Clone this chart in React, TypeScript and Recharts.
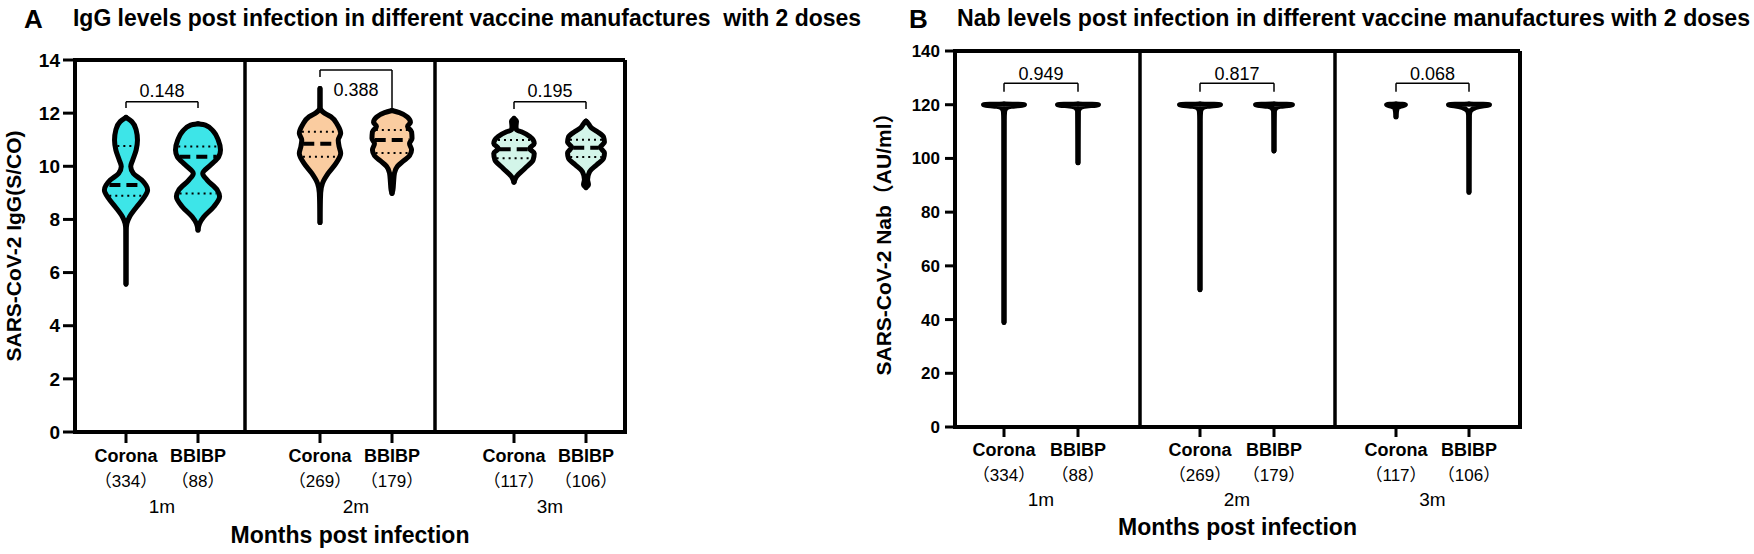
import React from 'react';
import { ComposedChart, Area, XAxis, YAxis, ReferenceLine } from 'recharts';

const FONT = "'Liberation Sans', Arial, 'Noto Sans CJK SC', sans-serif";
const BLACK = '#000';

// ---- values ----
const months = ['1m', '2m', '3m'];
const vaccines = ['Corona', 'BBIBP'];
const sampleSizes = [334, 88, 269, 179, 117, 106];

const igGTicks = [0, 2, 4, 6, 8, 10, 12, 14];
const nabTicks = [0, 20, 40, 60, 80, 100, 120, 140];

const igGPValues = ['0.148', '0.388', '0.195'];
const nabPValues = ['0.949', '0.817', '0.068'];

type Profile = [number, number][];

// violin outlines, top to bottom: [value, relative half-width]
const igGCorona1m: Profile = [
  [11.84, 0], [11.68, 0.26], [11.37, 0.45], [10.99, 0.51], [10.61, 0.45], [10.24, 0.3],
  [9.99, 0.21], [9.73, 0.33], [9.48, 0.7], [9.11, 0.96], [8.8, 0.78], [8.48, 0.48],
  [8.1, 0.16], [7.85, 0.04], [7.6, 0.01], [5.56, 0],
];
const igGBBIBP1m: Profile = [
  [11.6, 0], [11.55, 0.33], [11.3, 0.7], [10.99, 0.9], [10.61, 1.0], [10.36, 0.92],
  [10.05, 0.56], [9.73, 0.21], [9.48, 0.41], [9.11, 0.85], [8.86, 0.96], [8.48, 0.7],
  [8.1, 0.26], [7.85, 0.07], [7.6, 0],
];
const igGCorona2m: Profile = [
  [12.93, 0], [12.2, 0.01], [12.0, 0.2], [11.87, 0.48], [11.55, 0.78], [11.24, 0.92],
  [10.99, 0.81], [10.74, 0.85], [10.49, 0.92], [10.1, 0.7], [9.73, 0.36], [9.36, 0.11],
  [9.0, 0.03], [7.88, 0],
];
const igGBBIBP2m: Profile = [
  [12.1, 0], [12.02, 0.33], [11.85, 0.69], [11.65, 0.82], [11.5, 0.69], [11.3, 0.87],
  [11.05, 0.89], [10.85, 0.78], [10.62, 0.87], [10.4, 0.78], [10.2, 0.51], [10.0, 0.24],
  [9.75, 0.11], [9.4, 0.07], [9.1, 0.04], [8.98, 0],
];
const igGCorona3m: Profile = [
  [11.8, 0], [11.7, 0.11], [11.5, 0.09], [11.37, 0.11], [11.3, 0.33], [11.12, 0.7],
  [10.86, 0.9], [10.67, 0.69], [10.49, 0.9], [10.24, 0.85], [9.92, 0.48], [9.61, 0.11],
  [9.4, 0],
];
const igGBBIBP3m: Profile = [
  [11.7, 0], [11.6, 0.11], [11.45, 0.24], [11.3, 0.51], [11.1, 0.78], [10.9, 0.82],
  [10.72, 0.64], [10.5, 0.82], [10.3, 0.78], [10.05, 0.47], [9.8, 0.16], [9.5, 0.07],
  [9.3, 0.11], [9.2, 0],
];

const igGMedians = [9.3, 10.36, 10.85, 10.99, 10.64, 10.7];
const igGUpperQuartiles = [10.76, 10.74, 11.3, 11.37, 10.99, 11.0];
const igGLowerQuartiles = [8.89, 8.98, 10.36, 10.5, 10.3, 10.35];

const nabCorona1m: Profile = [[120.3, 0], [120, 1.0], [119.4, 0.35], [118.8, 0.12], [117.5, 0.03], [114, 0.01], [38.9, 0]];
const nabBBIBP1m: Profile = [[120.3, 0], [120, 1.0], [119.4, 0.3], [118.8, 0.1], [117.5, 0.02], [98.4, 0]];
const nabCorona2m: Profile = [[120.3, 0], [120, 1.0], [119.4, 0.35], [118.8, 0.12], [117.5, 0.03], [114, 0.01], [51.1, 0]];
const nabBBIBP2m: Profile = [[120.3, 0], [120, 0.9], [119.4, 0.3], [118.8, 0.1], [117.5, 0.02], [102.8, 0]];
const nabCorona3m: Profile = [[120.3, 0], [120, 0.46], [119.4, 0.2], [118.8, 0.06], [115.5, 0]];
const nabBBIBP3m: Profile = [[120.3, 0], [120, 1.0], [119.3, 0.5], [118.5, 0.2], [117.5, 0.06], [116, 0.02], [87.4, 0]];

// ---- layout ----
type Bracket = { top: number; leftFoot: number; rightFoot: number; labelPos: 'top' | 'bottom'; labelOffset: number };

type PanelCfg = {
  left: number;
  width: number;
  margin: { top: number; right: number; bottom: number; left: number };
  xAxisHeight: number;
  yAxisWidth: number;
  yTickSize: number;
  yTickMargin: number;
  yTickFont: number;
  yLabel: string;
  yLabelOffset: number;
  plotWidth: number;
  yMax: number;
  yTicks: number[];
  centers: number[];
  dividers: number[];
  halfWidth: number;
  profiles: Profile[];
  fills: string[];
  stats?: { median: number[]; upper: number[]; lower: number[] };
  pValues: string[];
  brackets: Bracket[];
  xTickSize: number;
  nameDy: number;
  countDy: number;
  monthDy: number;
  titleOffset: number;
};

const panelA: PanelCfg = {
  left: 0,
  width: 700,
  margin: { top: 60, right: 75, bottom: 7, left: 0 },
  xAxisHeight: 115,
  yAxisWidth: 75,
  yTickSize: 12,
  yTickMargin: 3,
  yTickFont: 19,
  yLabel: 'SARS-CoV-2 IgG(S/CO)',
  yLabelOffset: 14,
  plotWidth: 550,
  yMax: 14,
  yTicks: igGTicks,
  centers: [51, 123, 245, 317, 439, 511],
  dividers: [170, 360],
  halfWidth: 22.5,
  profiles: [igGCorona1m, igGBBIBP1m, igGCorona2m, igGBBIBP2m, igGCorona3m, igGBBIBP3m],
  fills: ['#3DE5E8', '#FACCA0', '#D3F5E9'],
  stats: { median: igGMedians, upper: igGUpperQuartiles, lower: igGLowerQuartiles },
  pValues: igGPValues,
  brackets: [
    { top: 12.43, leftFoot: 12.19, rightFoot: 12.19, labelPos: 'top', labelOffset: 5 },
    { top: 13.62, leftFoot: 13.36, rightFoot: 12.12, labelPos: 'bottom', labelOffset: 13 },
    { top: 12.43, leftFoot: 12.16, rightFoot: 12.16, labelPos: 'top', labelOffset: 5 },
  ],
  xTickSize: 11,
  nameDy: 19,
  countDy: 44,
  monthDy: 70,
  titleOffset: 4,
};

const panelB: PanelCfg = {
  left: 760,
  width: 994,
  margin: { top: 51, right: 234, bottom: 12, left: 95 },
  xAxisHeight: 115,
  yAxisWidth: 100,
  yTickSize: 10,
  yTickMargin: 5,
  yTickFont: 17,
  yLabel: 'SARS-CoV-2 Nab（AU/ml）',
  yLabelOffset: 29,
  plotWidth: 565,
  yMax: 140,
  yTicks: nabTicks,
  centers: [49, 123, 245, 319, 441, 514],
  dividers: [185, 380],
  halfWidth: 20.5,
  profiles: [nabCorona1m, nabBBIBP1m, nabCorona2m, nabBBIBP2m, nabCorona3m, nabBBIBP3m],
  fills: ['#fff', '#fff', '#fff'],
  pValues: nabPValues,
  brackets: [0, 1, 2].map(() => ({ top: 128, leftFoot: 124.8, rightFoot: 124.8, labelPos: 'top' as const, labelOffset: 3 })),
  xTickSize: 10,
  nameDy: 19,
  countDy: 44,
  monthDy: 69,
  titleOffset: 7,
};

function widthAt(profile: Profile, v: number) {
  for (let i = 0; i < profile.length - 1; i++) {
    const [v0, d0] = profile[i];
    const [v1, d1] = profile[i + 1];
    if (v <= v0 && v >= v1) {
      const t = (v0 - v) / (v0 - v1);
      return d0 + (d1 - d0) * t;
    }
  }
  return 0;
}

function Panel({ cfg }: { cfg: PanelCfg }) {
  const plotPx = cfg.width - cfg.margin.left - cfg.margin.right - cfg.yAxisWidth;
  const pxPerUnit = plotPx / cfg.plotWidth;
  const violins = cfg.profiles.map((p, i) =>
    p.map(([v, d]) => ({ y: v, r: [cfg.centers[i] - d * cfg.halfWidth, cfg.centers[i] + d * cfg.halfWidth] })),
  );

  const statLine = (i: number, v: number, key: string, dash: string, sw: number) => {
    const w = Math.max(widthAt(cfg.profiles[i], v) * cfg.halfWidth - 2, 0);
    return (
      <ReferenceLine
        key={key}
        segment={[{ x: cfg.centers[i] - w, y: v }, { x: cfg.centers[i] + w, y: v }]}
        stroke={BLACK}
        strokeWidth={sw}
        strokeDasharray={dash}
        ifOverflow="visible"
      />
    );
  };

  const renderTick = (p: any) => {
    const i = p.index;
    const g = Math.floor(i / 2);
    const half = ((cfg.centers[2 * g + 1] - cfg.centers[2 * g]) / 2) * pxPerUnit;
    return (
      <g>
        <text x={p.x} y={p.y + cfg.nameDy} textAnchor="middle" fill={BLACK} fontFamily={FONT} fontWeight={700} fontSize={18}>
          {vaccines[i % 2]}
        </text>
        <text x={p.x} y={p.y + cfg.countDy} textAnchor="middle" fill={BLACK} fontFamily={FONT} fontSize={17}>
          {`（${sampleSizes[i]}）`}
        </text>
        {i % 2 === 0 && (
          <text x={p.x + half} y={p.y + cfg.monthDy} textAnchor="middle" fill={BLACK} fontFamily={FONT} fontSize={19}>
            {months[g]}
          </text>
        )}
      </g>
    );
  };

  return (
    <div style={{ position: 'absolute', left: cfg.left, top: 0 }}>
      <ComposedChart layout="vertical" width={cfg.width} height={554} margin={cfg.margin}>
        <XAxis
          type="number"
          domain={[0, cfg.plotWidth]}
          allowDataOverflow
          ticks={cfg.centers}
          interval={0}
          height={cfg.xAxisHeight}
          tickSize={cfg.xTickSize}
          tickMargin={0}
          axisLine={{ stroke: BLACK, strokeWidth: 4, strokeLinecap: 'square' }}
          tickLine={{ stroke: BLACK, strokeWidth: 3 }}
          tick={renderTick}
          label={{
            value: 'Months post infection',
            position: 'insideBottom',
            offset: cfg.titleOffset,
            fill: BLACK,
            fontSize: 23,
            fontWeight: 700,
            fontFamily: FONT,
          }}
        />
        <YAxis
          type="number"
          dataKey="y"
          reversed
          domain={[0, cfg.yMax]}
          allowDataOverflow
          ticks={cfg.yTicks}
          interval={0}
          width={cfg.yAxisWidth}
          tickSize={cfg.yTickSize}
          tickMargin={cfg.yTickMargin}
          axisLine={{ stroke: BLACK, strokeWidth: 4, strokeLinecap: 'square' }}
          tickLine={{ stroke: BLACK, strokeWidth: 3 }}
          tick={{ fill: BLACK, fontSize: cfg.yTickFont, fontWeight: 700, fontFamily: FONT }}
          label={{
            value: cfg.yLabel,
            angle: -90,
            position: 'insideLeft',
            offset: cfg.yLabelOffset,
            fill: BLACK,
            fontSize: 21,
            fontWeight: 700,
            fontFamily: FONT,
            style: { textAnchor: 'middle' },
          }}
        />

        <ReferenceLine y={cfg.yMax} stroke={BLACK} strokeWidth={4} ifOverflow="visible" />
        <ReferenceLine x={cfg.plotWidth} stroke={BLACK} strokeWidth={4} ifOverflow="visible" />
        {cfg.dividers.map((d) => (
          <ReferenceLine key={`div${d}`} x={d} stroke={BLACK} strokeWidth={3.5} ifOverflow="visible" />
        ))}

        {violins.map((pts, i) => (
          <Area
            key={`v${i}`}
            data={pts}
            dataKey="r"
            type="monotone"
            fill={cfg.fills[Math.floor(i / 2)]}
            fillOpacity={1}
            stroke={BLACK}
            strokeWidth={5}
            strokeLinejoin="round"
            strokeLinecap="round"
            dot={false}
            activeDot={false}
            isAnimationActive={false}
          />
        ))}

        {cfg.stats &&
          cfg.centers.map((_, i) => [
            statLine(i, cfg.stats!.upper[i], `q3${i}`, '2 4', 2),
            statLine(i, cfg.stats!.lower[i], `q1${i}`, '2 4', 2),
            statLine(i, cfg.stats!.median[i], `md${i}`, '11 6', 4),
          ])}

        {cfg.brackets.map((b, g) => {
          const x1 = cfg.centers[2 * g];
          const x2 = cfg.centers[2 * g + 1];
          return [
            <ReferenceLine
              key={`bh${g}`}
              segment={[{ x: x1, y: b.top }, { x: x2, y: b.top }]}
              stroke={BLACK}
              strokeWidth={1.5}
              ifOverflow="visible"
              label={{ value: cfg.pValues[g], position: b.labelPos, offset: b.labelOffset, fill: BLACK, fontSize: 18, fontFamily: FONT }}
            />,
            <ReferenceLine key={`bl${g}`} segment={[{ x: x1, y: b.top }, { x: x1, y: b.leftFoot }]} stroke={BLACK} strokeWidth={1.5} ifOverflow="visible" />,
            <ReferenceLine key={`br${g}`} segment={[{ x: x2, y: b.top }, { x: x2, y: b.rightFoot }]} stroke={BLACK} strokeWidth={1.5} ifOverflow="visible" />,
          ];
        })}
      </ComposedChart>
    </div>
  );
}

export default function App() {
  return (
    <div style={{ position: 'relative', width: 1754, height: 554, background: '#fff', overflow: 'hidden' }}>
      <style>{'body{margin:0}'}</style>
      <Panel cfg={panelA} />
      <Panel cfg={panelB} />
      <svg width={1754} height={554} style={{ position: 'absolute', left: 0, top: 0, pointerEvents: 'none' }}>
        <g fontFamily={FONT} fontWeight={700} fill={BLACK}>
          <text x={24} y={28} fontSize={26}>A</text>
          <text x={73} y={26} fontSize={23} textLength={788} lengthAdjust="spacingAndGlyphs" style={{ whiteSpace: 'pre' }}>
            IgG levels post infection in different vaccine manufactures  with 2 doses
          </text>
          <text x={909} y={28} fontSize={26}>B</text>
          <text x={957} y={26} fontSize={23} textLength={793} lengthAdjust="spacingAndGlyphs">
            Nab levels post infection in different vaccine manufactures with 2 doses
          </text>
        </g>
      </svg>
    </div>
  );
}
